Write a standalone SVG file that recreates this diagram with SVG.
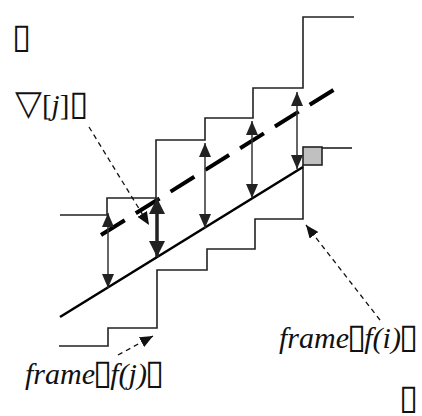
<svg xmlns="http://www.w3.org/2000/svg" width="422" height="416" viewBox="0 0 422 416">
<style>
.stair{fill:none;stroke:#222;stroke-width:1.6}
.varrow{stroke:#333;stroke-width:1.5;marker-start:url(#ah);marker-end:url(#ah)}
.thick{stroke:#222;stroke-width:3.5;marker-start:url(#ahb);marker-end:url(#ahb)}
.ptr{fill:none;stroke:#111;stroke-width:1.3;stroke-dasharray:5 4;marker-end:url(#ahs)}
.lbl{font-family:"Liberation Serif",serif;font-size:29px;fill:#111}
.big{font-size:30px}
.it{font-style:italic}
.tofu{font-family:"DejaVu Sans",sans-serif;font-style:normal;font-size:35px}
</style>
<defs>
<marker id="ah" markerUnits="userSpaceOnUse" markerWidth="14" markerHeight="12" refX="14" refY="6" orient="auto-start-reverse"><path d="M0,0 L14,6 L0,12 z" fill="#222"/></marker>
<marker id="ahb" markerUnits="userSpaceOnUse" markerWidth="16" markerHeight="16" refX="16" refY="8" orient="auto-start-reverse"><path d="M0,0 L16,8 L0,16 z" fill="#222"/></marker>
<marker id="ahs" markerUnits="userSpaceOnUse" markerWidth="13" markerHeight="11" refX="13" refY="5.5" orient="auto"><path d="M0,0 L13,5.5 L0,11 z" fill="#111"/></marker>
</defs>
<g id="upper-stair"><path class="stair" d="M60,215 H107 V198 H156 V140 H205 V118 H253 V88 H303 V17 H354"/></g>
<g id="lower-stair"><path class="stair" d="M59,346 H108 V328 H157 V270 H207 V249 H255 V219 H303 V165"/><path class="stair" d="M322,148 H352"/></g>
<g id="square"><rect x="303" y="147" width="19" height="18" fill="#c0c0c0" stroke="#222" stroke-width="1.6"/></g>
<g id="solid-line"><line x1="60" y1="317" x2="303" y2="167" stroke="#000" stroke-width="2.6"/></g>
<g id="dashed-line"><line x1="101" y1="235" x2="335" y2="89" stroke="#000" stroke-width="4" stroke-dasharray="28 13"/></g>
<g id="connectors">
<line class="varrow" x1="108" y1="213" x2="108" y2="288"/>
<line class="thick" x1="157" y1="198" x2="157" y2="257"/>
<line class="varrow" x1="205" y1="143" x2="205" y2="228"/>
<line class="varrow" x1="252" y1="121" x2="252" y2="198"/>
<line class="varrow" x1="297" y1="92" x2="297" y2="169"/>
<line class="ptr" x1="89" y1="127" x2="149" y2="225"/>
<line class="ptr" x1="118" y1="355" x2="153" y2="336"/>
<line class="ptr" x1="380" y1="320" x2="306" y2="225"/>
</g>
<g id="labels">
<text class="lbl" x="12" y="48"><tspan class="tofu">&#x25AF;</tspan></text>
<text class="lbl" x="15" y="115"><tspan font-family="DejaVu Sans" font-size="35">&#x25BD;</tspan>[<tspan class="it">j</tspan>]<tspan class="tofu">&#x25AF;</tspan></text>
<text class="lbl big it" x="25" y="384">frame<tspan class="tofu" dx="-2">&#x25AF;</tspan><tspan dx="-2">f(j)</tspan><tspan class="tofu" dx="-2">&#x25AF;</tspan></text>
<text class="lbl big it" x="279" y="348">frame<tspan class="tofu" dx="-2">&#x25AF;</tspan><tspan dx="-2">f(i)</tspan><tspan class="tofu" dx="-2">&#x25AF;</tspan></text>
<text class="lbl" x="399" y="409"><tspan class="tofu">&#x25AF;</tspan></text>
</g>
</svg>
